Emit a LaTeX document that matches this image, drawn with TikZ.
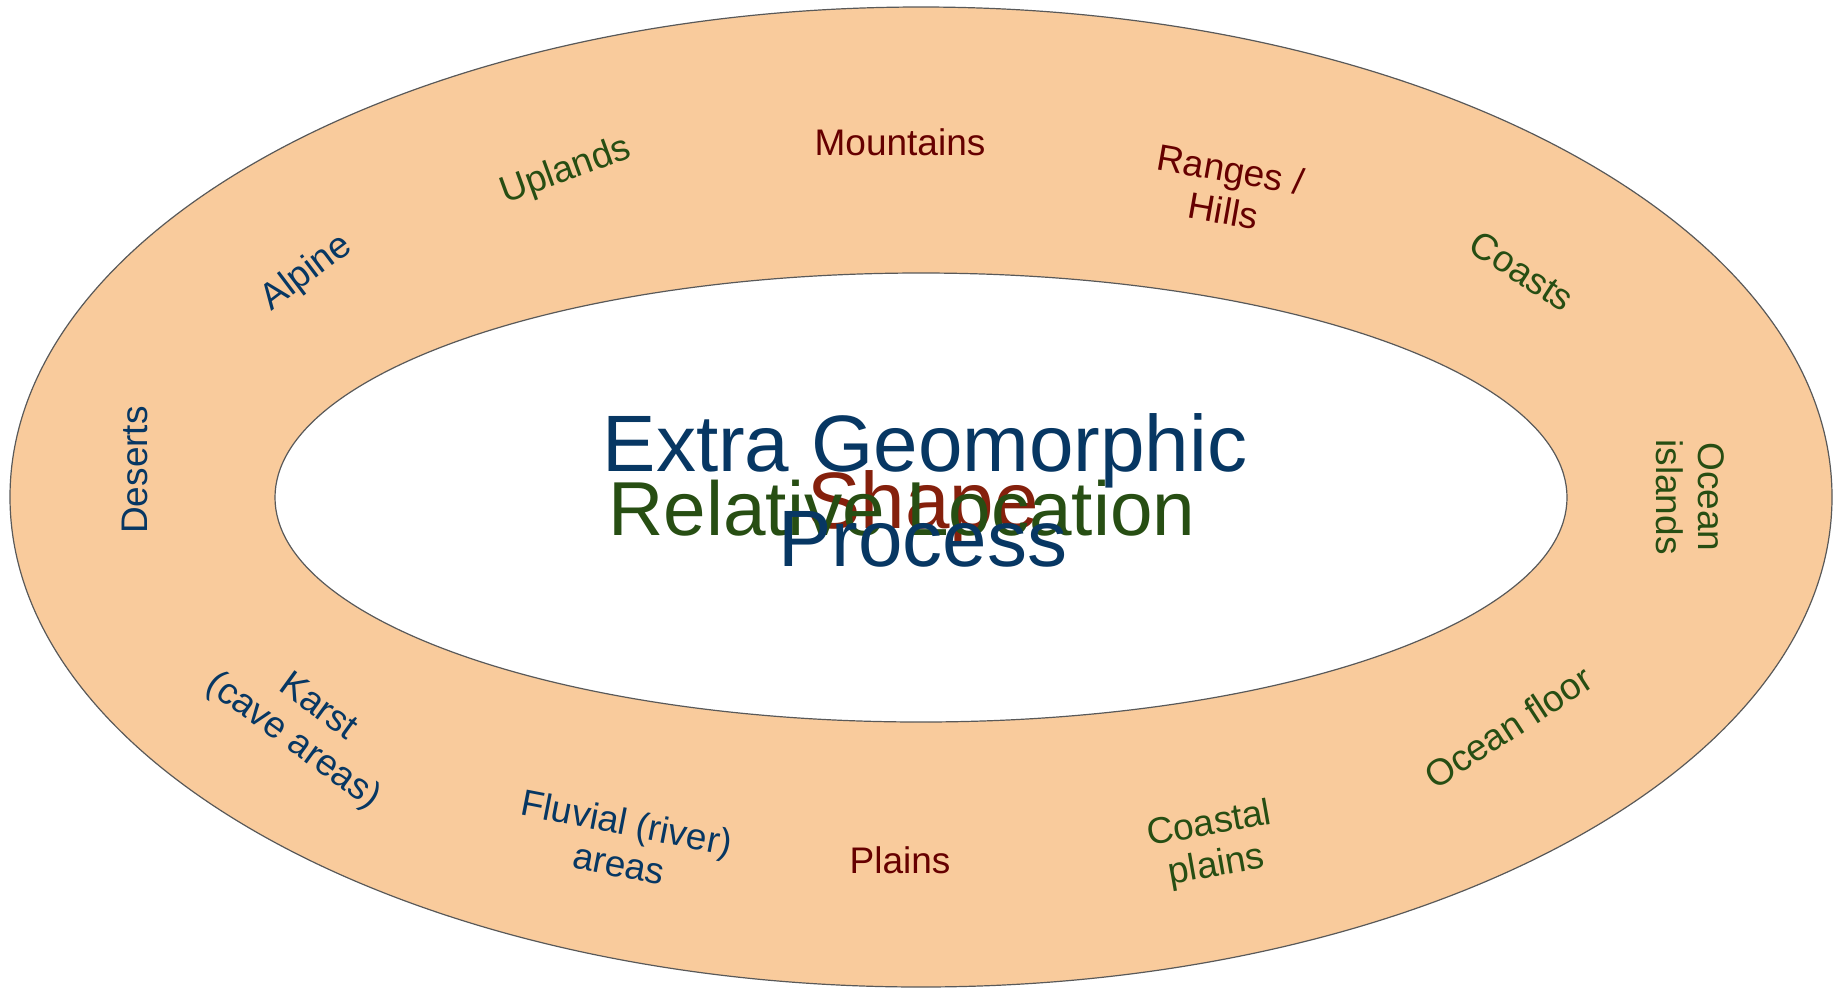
\documentclass[tikz,border=0pt]{standalone}
\usepackage{fontspec}
\setmainfont{Liberation Sans}
\definecolor{peach}{HTML}{F9CB9C}
\definecolor{rimgray}{HTML}{595959}
\definecolor{dblue}{HTML}{073763}
\definecolor{dgreen}{HTML}{274E13}
\definecolor{dred}{HTML}{660000}
\definecolor{berry}{HTML}{85200C}
\tikzset{
  lbl/.style={inner sep=0pt, align=center, font=\fontsize{37}{42}\selectfont},
  big/.style={inner sep=0pt, anchor=base, font=\fontsize{80}{92}\selectfont},
  ring/.style={draw=rimgray, line width=1.2pt}
}
\begin{document}
\begin{tikzpicture}[x=1pt,y=-1pt]
\useasboundingbox (0,0) rectangle (1839,989);
% rings
\filldraw[ring, fill=peach] (921,497) ellipse [x radius=911, y radius=490];
\filldraw[ring, fill=white] (921,497.5) ellipse [x radius=646, y radius=224.5];
% ring labels
\node[lbl, text=dred]   (mount)  at (900,142) {Mountains};
\node[lbl, text=dgreen, rotate=20] (upl) at (566,171) {Uplands};
\node[lbl, text=dblue,  rotate=37] (alp) at (307,273) {Alpine};
\node[lbl, text=dred,   rotate=-10] (rng) at (1227,190) {Ranges /\\Hills};
\node[lbl, text=dgreen, rotate=-33] (coa) at (1522,271) {Coasts};
\node[lbl, text=dgreen, rotate=-90] (oci) at (1690,497) {Ocean\\islands};
\node[lbl, text=dblue,  rotate=90] (des) at (135,470) {Deserts};
\node[lbl, text=dblue,  rotate=-36] (kar) at (305,725) {Karst\\(cave areas)};
\node[lbl, text=dblue,  rotate=-11] (flu) at (623,843) {Fluvial (river)\\areas};
\node[lbl, text=dred]   (pla) at (900,860) {Plains};
\node[lbl, text=dgreen, rotate=10] (cpl) at (1213,846) {Coastal\\plains};
\node[lbl, text=dgreen, rotate=33] (ocf) at (1508,727) {Ocean floor};
% centre words
\node[big, text=berry]  (shape) at (923,528) {Shape};
\node[big, text=dgreen, font=\fontsize{76.5}{88}\selectfont] (rel) at (902,535) {Relative Location};
\node[big, text=dblue]  (extra) at (925,471) {Extra Geomorphic};
\node[big, text=dblue]  (proc)  at (923,566) {Process};
\end{tikzpicture}
\end{document}
